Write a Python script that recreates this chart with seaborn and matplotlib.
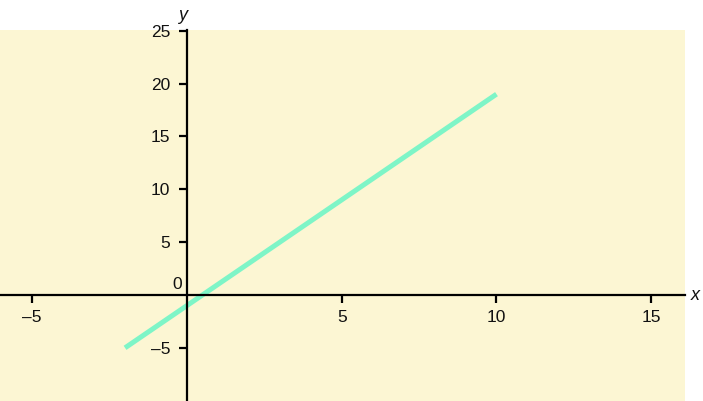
import matplotlib
matplotlib.use("Agg")
import matplotlib.pyplot as plt
import seaborn as sns
import pandas as pd

# data
x_vals = [-2, 10]
y_vals = [-5, 19]
x_ticks = [-5, 5, 10, 15]
y_ticks = [-5, 5, 10, 15, 20, 25]

sns.set_style("white")
plt.rcParams['font.family'] = ['Liberation Sans', 'DejaVu Sans']

fig = plt.figure(figsize=(7.03, 4.01), dpi=100)
ax = fig.add_axes([0, 0, 685 / 703, 371 / 401])
bg = '#fcf6d3'
ax.set_facecolor(bg)

df = pd.DataFrame({'x': x_vals, 'y': y_vals})
sns.lineplot(data=df, x='x', y='y', ax=ax, color='#7ef5c7', linewidth=3.6,
             solid_capstyle='butt')

ax.set_xlim(-6.04, 16.09)
ax.set_ylim(-10.03, 25.07)

for s in ['top', 'right']:
    ax.spines[s].set_visible(False)
ax.spines['left'].set_position(('data', 0))
ax.spines['bottom'].set_position(('data', 0))
for s in ['left', 'bottom']:
    ax.spines[s].set_linewidth(1.6)
    ax.spines[s].set_color('black')

ax.set_xticks(x_ticks)
ax.set_yticks(y_ticks)
ax.set_xticklabels([f"{v}".replace('-', '\u2013') for v in x_ticks])
ax.set_yticklabels([f"{v}".replace('-', '\u2013') for v in y_ticks])
ax.tick_params(axis='both', direction='out', length=6, width=1.6, labelsize=12.5,
               color='black', labelcolor='#111111')
ax.tick_params(axis='x', pad=5, bottom=True)
ax.tick_params(axis='y', pad=6, left=True)
ax.set_xlabel('')
ax.set_ylabel('')

ax.text(-0.15, 0.3, '0', ha='right', va='bottom', fontsize=12.5, color='#111111')
fig.text(183 / 703, 1 - 16 / 401, 'y', ha='center', va='center', fontsize=13,
         style='italic', color='#111111')
fig.text(695 / 703, 1 - 296 / 401, 'x', ha='center', va='center', fontsize=13,
         style='italic', color='#111111')

fig.savefig('out.png', dpi=100, facecolor='white')
